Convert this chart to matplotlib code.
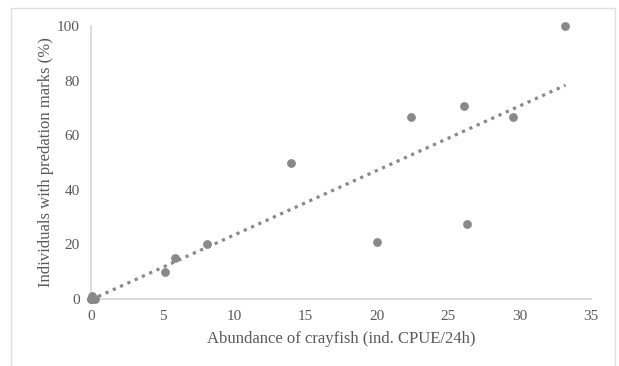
import matplotlib
matplotlib.use("Agg")
import matplotlib.pyplot as plt
import numpy as np
from matplotlib.patches import Rectangle

# abundance of crayfish (ind. CPUE/24h) and share of individuals with predation marks (%)
abundance = [0.0, 0.0, 0.1, 0.25, 0.05, 5.2, 5.9, 8.1, 14.0, 20.0, 22.4, 26.1, 26.3, 29.5, 33.2]
marked = [0.0, 0.0, 0.0, 0.0, 1.0, 10.0, 15.0, 20.0, 50.0, 21.0, 66.7, 70.6, 27.3, 66.7, 100.0]

x_ticks = [0, 5, 10, 15, 20, 25, 30, 35]
y_ticks = [0, 20, 40, 60, 80, 100]

plt.rcParams['font.family'] = ['Liberation Serif', 'DejaVu Serif']
grey = '#898989'
txt = '#595959'
line_col = '#d9d9d9'

fig = plt.figure(figsize=(6.19, 3.66), dpi=100)
ax = fig.add_axes([0.147, 0.183, 0.808, 0.746])

ax.scatter(abundance, marked, s=40, color=grey, zorder=3, clip_on=False, linewidths=0)

# linear trendline
x = np.array(abundance)
k, b = np.polyfit(x, np.array(marked), 1)
xs = np.array([0, max(abundance)])
ax.plot(xs, k * xs + b, color=grey, linestyle=(0, (1, 1.5)), linewidth=2.3, zorder=2)

ax.set_xlim(0, 35)
ax.set_ylim(0, 100)
ax.set_xticks(x_ticks)
ax.set_yticks(y_ticks)
ax.tick_params(length=0, labelsize=11, labelcolor=txt, pad=8)
for s in ['top', 'right']:
    ax.spines[s].set_visible(False)
for s in ['left', 'bottom']:
    ax.spines[s].set_color(line_col)
    ax.spines[s].set_linewidth(1.3)

ax.set_xlabel('Abundance of crayfish (ind. CPUE/24h)', fontsize=12, color=txt, labelpad=6)
ax.set_ylabel('Individuals with predation marks (%)', fontsize=12, color=txt, labelpad=2)

fig.patches.append(Rectangle((0.0178, -0.1), 0.9757, 1.078, transform=fig.transFigure,
                             fill=False, edgecolor='#e0e0e0', linewidth=1))

fig.savefig('out.png', dpi=100)
